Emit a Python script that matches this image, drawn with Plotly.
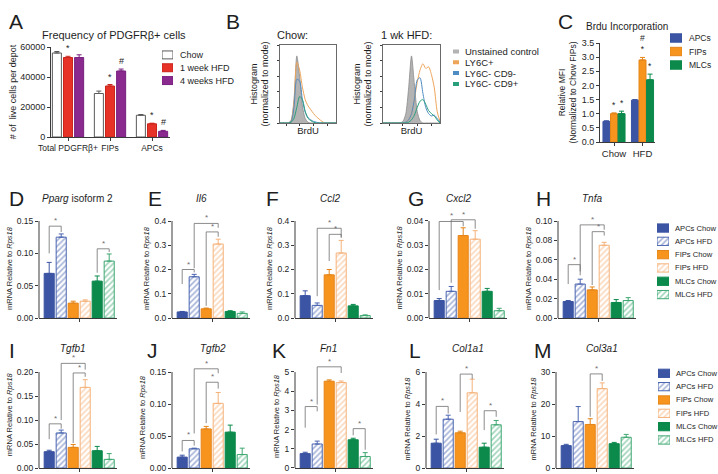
import plotly.graph_objects as go

W, H = 718, 474
FONT = "Arial, Liberation Sans, Helvetica, sans-serif"

# ======================= DATA =======================
# ---- Panel A: frequency of PDGFRb+ cells ----
A_CATS = ["Total PDGFRβ+", "FIPs", "APCs"]
A_SERIES = ["Chow", "1 week HFD", "4 weeks HFD"]
A_CHOW = [56000, 29000, 14500]
A_CHOW_ERR = [1000, 1600, 500]
A_WEEK1 = [53000, 34000, 8800]
A_WEEK1_ERR = [800, 1000, 400]
A_WEEK4 = [53000, 44000, 3800]
A_WEEK4_ERR = [1800, 1300, 600]
A_YTICKS = [0, 20000, 40000, 60000]
A_MARKS = [(0, 1, "*"), (1, 1, "*"), (1, 2, "#"), (2, 1, "*"), (2, 2, "#")]

# ---- Panel B: BrdU flow histograms (% of mode) ----
B_SERIES = ["Unstained control", "LY6C+", "LY6C- CD9-", "LY6C- CD9+"]
B_X = [0.00, 0.05, 0.10, 0.15, 0.20, 0.25, 0.30, 0.35, 0.40, 0.45, 0.50,
       0.55, 0.60, 0.65, 0.70, 0.75, 0.80, 0.85, 0.90, 0.95, 1.00]
B_CHOW_UNSTAINED = [0, 0, 0, 0, 4, 30, 86, 60, 22, 6, 1, 0, 0, 0, 0, 0, 0, 0, 0, 0, 0]
B_CHOW_LY6C_POS = [0, 0, 0, 0, 3, 26, 78, 68, 46, 30, 22, 17, 12, 8, 5, 2, 0, 0, 0, 0, 0]
B_CHOW_CD9_NEG = [0, 0, 0, 0, 2, 20, 56, 54, 30, 14, 7, 4, 2, 1, 0, 0, 0, 0, 0, 0, 0]
B_CHOW_CD9_POS = [0, 0, 0, 0, 1, 6, 20, 34, 30, 15, 6, 3, 1, 0, 0, 0, 0, 0, 0, 0, 0]
B_HFD_UNSTAINED = [0, 0, 0, 0, 0, 0, 0, 2, 12, 45, 86, 50, 15, 3, 0, 0, 0, 0, 0, 0, 0]
B_HFD_LY6C_POS = [0, 0, 0, 0, 0, 0, 0, 0, 1, 4, 12, 30, 52, 68, 76, 70, 72, 62, 45, 15, 2]
B_HFD_CD9_NEG = [0, 0, 0, 0, 0, 0, 0, 0, 1, 4, 12, 30, 55, 58, 38, 20, 12, 9, 10, 6, 1]
B_HFD_CD9_POS = [0, 0, 0, 0, 0, 0, 0, 0, 0, 1, 4, 10, 20, 28, 30, 24, 16, 12, 9, 4, 0]

# ---- Panel C: BrdU incorporation ----
C_CATS = ["Chow", "HFD"]
C_SERIES = ["APCs", "FIPs", "MLCs"]
C_APCS = [0.73, 1.48]
C_APCS_ERR = [0.02, 0.02]
C_FIPS = [1.00, 2.90]
C_FIPS_ERR = [0.03, 0.09]
C_MLCS = [1.00, 2.20]
C_MLCS_ERR = [0.09, 0.20]
C_YTICKS = [0.0, 0.5, 1.0, 1.5, 2.0, 2.5, 3.0, 3.5]
C_MARKS = [(0, 1, "*"), (0, 2, "*"), (1, 1, "#<br>*"), (1, 2, "*")]

# ---- Panels D-M: mRNA relative to Rps18 ----
GENE_GROUPS = ["APCs Chow", "APCs HFD", "FIPs Chow", "FIPs HFD", "MLCs Chow", "MLCs HFD"]
# significance brackets: (left bar, right bar, top, left-leg bottom, right-leg bottom)
PPARG = [0.069, 0.125, 0.023, 0.026, 0.057, 0.088]
PPARG_ERR = [0.017, 0.005, 0.003, 0.002, 0.008, 0.011]
PPARG_SIG = [(0, 1, 0.142, 0.100, 0.133), (4, 5, 0.107, 0.070, 0.102)]
IL6 = [0.025, 0.170, 0.038, 0.305, 0.027, 0.019]
IL6_ERR = [0.002, 0.010, 0.003, 0.020, 0.003, 0.006]
IL6_SIG = [(0, 1, 0.200, 0.140, 0.188), (1, 3, 0.390, 0.205, 0.372), (2, 3, 0.355, 0.050, 0.335)]
CCL2 = [0.092, 0.052, 0.178, 0.268, 0.050, 0.010]
CCL2_ERR = [0.020, 0.010, 0.022, 0.052, 0.006, 0.003]
CCL2_SIG = [(1, 3, 0.370, 0.090, 0.335), (2, 3, 0.345, 0.235, 0.330)]
CXCL2 = [0.0072, 0.0110, 0.0340, 0.0325, 0.0110, 0.0030]
CXCL2_ERR = [0.0008, 0.0020, 0.0032, 0.0035, 0.0012, 0.0010]
CXCL2_SIG = [(0, 2, 0.0398, 0.0115, 0.0378), (1, 3, 0.0405, 0.0145, 0.0368)]
TNFA = [0.017, 0.035, 0.029, 0.075, 0.016, 0.018]
TNFA_ERR = [0.001, 0.005, 0.003, 0.003, 0.003, 0.003]
TNFA_SIG = [(0, 1, 0.055, 0.035, 0.048), (1, 3, 0.096, 0.044, 0.091), (2, 3, 0.089, 0.034, 0.085)]
TGFB1 = [0.034, 0.073, 0.043, 0.168, 0.036, 0.018]
TGFB1_ERR = [0.003, 0.006, 0.006, 0.016, 0.009, 0.012]
TGFB1_SIG = [(0, 1, 0.092, 0.060, 0.082), (1, 3, 0.218, 0.100, 0.205), (2, 3, 0.198, 0.052, 0.190)]
TGFB2 = [0.017, 0.030, 0.061, 0.101, 0.056, 0.021]
TGFB2_ERR = [0.003, 0.001, 0.004, 0.017, 0.011, 0.010]
TGFB2_SIG = [(0, 1, 0.043, 0.026, 0.035), (1, 3, 0.155, 0.054, 0.148), (2, 3, 0.134, 0.070, 0.124)]
FN1 = [0.75, 1.25, 4.52, 4.45, 1.47, 0.60]
FN1_ERR = [0.07, 0.15, 0.07, 0.08, 0.08, 0.20]
FN1_SIG = [(0, 1, 3.20, 2.10, 2.95), (1, 3, 5.27, 3.30, 4.95), (4, 5, 2.05, 1.70, 0.95)]
COL1A1 = [1.55, 3.05, 2.20, 4.70, 1.30, 2.70]
COL1A1_ERR = [0.25, 0.25, 0.10, 0.85, 0.25, 0.27]
COL1A1_SIG = [(0, 1, 3.85, 2.10, 3.40), (2, 3, 5.87, 3.50, 5.55), (4, 5, 3.58, 2.37, 3.20)]
COL3A1 = [7.0, 14.5, 13.6, 24.8, 7.6, 9.6]
COL3A1_ERR = [0.4, 4.7, 1.8, 1.8, 0.4, 0.9]
COL3A1_SIG = [(2, 3, 29.4, 16.0, 27.2)]

# ======================= STYLE =======================
AXC = "#3a3a3a"
TXT = "#1e1e1e"
BRK = "#6e6e6e"
BLUE, BLUE_H = "#3b54a3", "#4a65b0"
ORANGE, ORANGE_D, ORANGE_H = "#f7941d", "#e48519", "#f5b27a"
GREEN, GREEN_H = "#0b8a4b", "#3fa872"
A_WHITE_LINE, A_RED, A_PURPLE = "#5a5a5a", "#e63227", "#8a2a8f"
B_GRAY, B_ORANGE, B_BLUE, B_GREEN = "#b3b3b3", "#eea55a", "#4f8cc4", "#2a9f7c"

GENE_STYLES = [
    dict(fill=BLUE, line=BLUE, pattern=None),
    dict(fill="white", line=BLUE_H, pattern=BLUE_H),
    dict(fill=ORANGE, line=ORANGE_D, pattern=None),
    dict(fill="white", line=ORANGE_H, pattern=ORANGE_H),
    dict(fill=GREEN, line=GREEN, pattern=None),
    dict(fill="white", line=GREEN_H, pattern=GREEN_H),
]


def fnt(size, color=TXT):
    return dict(family=FONT, size=size, color=color)


fig = go.Figure()
axes_layout = {}
annotations = []
shapes = []
_n = [0]


def add_axes(xpx, ypx, xopt, yopt):
    _n[0] += 1
    s = "" if _n[0] == 1 else str(_n[0])
    base = dict(showgrid=False, zeroline=False, automargin=False, fixedrange=True)
    xd = dict(base, domain=[xpx[0] / W, xpx[1] / W], anchor="y" + s)
    xd.update(xopt)
    yd = dict(base, domain=[1 - ypx[1] / H, 1 - ypx[0] / H], anchor="x" + s)
    yd.update(yopt)
    axes_layout["xaxis" + s] = xd
    axes_layout["yaxis" + s] = yd
    return "x" + s, "y" + s


def px_text(txt, x, y, size, xanchor="center", yanchor="middle", color=TXT):
    annotations.append(dict(text=txt, x=x / W, y=1 - y / H, xref="paper", yref="paper",
                            xanchor=xanchor, yanchor=yanchor, showarrow=False,
                            font=fnt(size, color)))


def make_marker(fill, line, pattern):
    m = dict(color=fill, line=dict(color=line, width=1))
    if pattern:
        m["pattern"] = dict(shape="/", fgcolor=pattern, bgcolor="white", size=4, solidity=0.4)
    return m


def add_bar(xa, ya, xs, ys, errs, width, fill, line, pattern=None):
    err = dict(type="data", array=errs, arrayminus=[0] * len(errs), symmetric=False,
               color=line, thickness=1, width=2.5)
    fig.add_trace(go.Bar(x=xs, y=ys, width=width, marker=make_marker(fill, line, pattern),
                         error_y=err, xaxis=xa, yaxis=ya, showlegend=False, hoverinfo="skip"))


def swatch_legend(x0, x1, rows, names, styles, size, kind="bar", gap=5):
    step = rows[1] - rows[0]
    xa, ya = add_axes((x0, x1), (rows[0] - step / 2, rows[-1] + step / 2),
                      dict(range=[0, 1], visible=False),
                      dict(range=[len(rows) - 0.5, -0.5], visible=False))
    for i, (name, st) in enumerate(zip(names, styles)):
        if kind == "bar":
            fig.add_trace(go.Bar(x=[1], y=[i], base=[0], orientation="h", width=0.62,
                                 marker=make_marker(st["fill"], st["line"], st.get("pattern")),
                                 xaxis=xa, yaxis=ya, showlegend=False, hoverinfo="skip"))
        else:
            fig.add_trace(go.Scatter(x=[0, 1], y=[i, i], mode="lines",
                                     line=dict(color=st["line"], width=4),
                                     xaxis=xa, yaxis=ya, showlegend=False, hoverinfo="skip"))
        annotations.append(dict(text=name, x=1, y=i, xref=xa, yref=ya, xanchor="left",
                                yanchor="middle", xshift=gap, showarrow=False, font=fnt(size)))


def y_axis_opts(ticks, fmt, rng, title, tsize, size=9, standoff=3, showline=True):
    return dict(range=rng, showline=showline, linecolor=AXC, linewidth=1, ticks="outside",
                ticklen=3, tickwidth=1, tickcolor=AXC, tickvals=ticks, tickformat=fmt,
                tickfont=fnt(size), title=dict(text=title, font=fnt(tsize), standoff=standoff))


# ======================= PANEL A =======================
a_unit, a_c0 = 42.0, 68.0
xa, ya = add_axes((51, 170), (47, 137),
                  dict(range=[(51 - a_c0) / a_unit, (170 - a_c0) / a_unit], showline=True,
                       linecolor=AXC, linewidth=1, ticks="outside", ticklen=3, tickcolor=AXC,
                       tickvals=[0, 1, 2], ticktext=A_CATS, tickfont=fnt(8.5), tickangle=0),
                  y_axis_opts(A_YTICKS, "d", [0, 60000], "# of  live cells per depot", 9, 9, 2))
A_OFF = [-0.265, 0.0, 0.265]
a_sets = [(A_CHOW, A_CHOW_ERR, "white", A_WHITE_LINE),
          (A_WEEK1, A_WEEK1_ERR, A_RED, "#c9261d"),
          (A_WEEK4, A_WEEK4_ERR, A_PURPLE, "#7a2080")]
for k, (vals, errs, fill, line) in enumerate(a_sets):
    add_bar(xa, ya, [c + A_OFF[k] for c in range(3)], vals, errs, 0.215, fill, line)
for (ci, si, sym) in A_MARKS:
    vals, errs = a_sets[si][0], a_sets[si][1]
    annotations.append(dict(text=sym, x=ci + A_OFF[si], y=vals[ci] + errs[ci], xref=xa, yref=ya,
                            yanchor="bottom", yshift=1, showarrow=False, font=fnt(9)))
px_text("Frequency of PDGFRβ+ cells", 114, 35, 11)
swatch_legend(162, 173, [55, 68, 80.5], A_SERIES,
              [dict(fill="white", line=A_WHITE_LINE), dict(fill=A_RED, line="#c9261d"),
               dict(fill=A_PURPLE, line="#7a2080")], 9)
px_text("A", 16, 21, 21)

# ======================= PANEL B =======================
b_panels = [((280, 336), "Chow:", 292,
             [B_CHOW_UNSTAINED, B_CHOW_LY6C_POS, B_CHOW_CD9_NEG, B_CHOW_CD9_POS]),
            ((383, 440), "1 wk HFD:", 406,
             [B_HFD_UNSTAINED, B_HFD_LY6C_POS, B_HFD_CD9_NEG, B_HFD_CD9_POS])]
b_colors = [B_GRAY, B_ORANGE, B_BLUE, B_GREEN]
for (xr, ttl, tx, curves) in b_panels:
    xa, ya = add_axes(xr, (45, 123),
                      dict(range=[0, 1], showline=True, mirror=True, linecolor="#6a6a6a",
                           linewidth=1, ticks="outside", ticklen=2, tickcolor=AXC,
                           tickvals=[0.12, 0.35, 0.6, 0.85], showticklabels=False,
                           title=dict(text="BrdU", font=fnt(9.5), standoff=2)),
                      dict(range=[0, 100], showline=True, mirror=True, linecolor="#6a6a6a",
                           linewidth=1, ticks="outside", ticklen=2, tickcolor=AXC,
                           tickvals=[0, 20, 40, 60, 80, 100], showticklabels=False,
                           title=dict(text="Histogram<br>(normalized to mode)",
                                      font=fnt(9), standoff=6)))
    for k, ys in enumerate(curves):
        if k == 0:
            fig.add_trace(go.Scatter(x=B_X, y=ys, mode="lines", fill="tozeroy",
                                     fillcolor=B_GRAY, line=dict(color="#8a8a8a", width=0.8,
                                                                 shape="spline", smoothing=0.7),
                                     xaxis=xa, yaxis=ya, showlegend=False, hoverinfo="skip"))
        else:
            fig.add_trace(go.Scatter(x=B_X, y=ys, mode="lines",
                                     line=dict(color=b_colors[k], width=1, shape="spline",
                                               smoothing=0.7),
                                     xaxis=xa, yaxis=ya, showlegend=False, hoverinfo="skip"))
    px_text(ttl, tx, 35, 11)
swatch_legend(453, 459, [51.5, 62.3, 73.1, 83.9], B_SERIES,
              [dict(line=c) for c in b_colors], 9.5, kind="line", gap=4)
px_text("B", 233, 21, 21)

# ======================= PANEL C =======================
c_unit, c_c0 = 28.5, 614.0
xa, ya = add_axes((600, 655), (43, 142),
                  dict(range=[(600 - c_c0) / c_unit, (655 - c_c0) / c_unit], showline=True,
                       linecolor=AXC, linewidth=1, ticks="outside", ticklen=3, tickcolor=AXC,
                       tickvals=[0, 1], ticktext=C_CATS, tickfont=fnt(9.5), tickangle=0),
                  y_axis_opts(C_YTICKS, ".1f", [0, 3.5],
                              "Relative MFI<br>(Normalized to Chow FIPs)", 8.5, 9, 3))
C_OFF = [-0.265, 0.0, 0.265]
c_sets = [(C_APCS, C_APCS_ERR, BLUE, BLUE), (C_FIPS, C_FIPS_ERR, ORANGE, ORANGE_D),
          (C_MLCS, C_MLCS_ERR, GREEN, GREEN)]
for k, (vals, errs, fill, line) in enumerate(c_sets):
    add_bar(xa, ya, [c + C_OFF[k] for c in range(2)], vals, errs, 0.245, fill, line)
for (ci, si, sym) in C_MARKS:
    vals, errs = c_sets[si][0], c_sets[si][1]
    annotations.append(dict(text=sym, x=ci + C_OFF[si], y=vals[ci] + errs[ci], xref=xa, yref=ya,
                            yanchor="bottom", yshift=1, showarrow=False, font=fnt(8.5)))
px_text("Brdu Incorporation", 627, 27, 10)
swatch_legend(670, 682, [38, 51.5, 65], C_SERIES,
              [dict(fill=BLUE, line=BLUE), dict(fill=ORANGE, line=ORANGE_D),
               dict(fill=GREEN, line=GREEN)], 8.5)
px_text("C", 565, 21, 21)

# ======================= PANELS D-M =======================
ROWS = {1: dict(top=221, base=318, letter=198, title=198),
        2: dict(top=372, base=468, letter=350, title=348)}
GENE_AXIS_W = 78
GENE_XRANGE = [-0.85, 5.65]
panels = [
    (1, "D", "<i>Pparg</i> isoform 2", PPARG, PPARG_ERR, PPARG_SIG, [0, 0.05, 0.10, 0.15], ".2f", 39, 16, 77),
    (1, "E", "<i>Il6</i>", IL6, IL6_ERR, IL6_SIG, [0, 0.1, 0.2, 0.3, 0.4], ".1f", 172, 155, 201),
    (1, "F", "<i>Ccl2</i>", CCL2, CCL2_ERR, CCL2_SIG, [0, 0.1, 0.2, 0.3, 0.4], ".1f", 295, 272, 330),
    (1, "G", "<i>Cxcl2</i>", CXCL2, CXCL2_ERR, CXCL2_SIG, [0, 0.01, 0.02, 0.03, 0.04], ".2f", 429, 416, 458),
    (1, "H", "<i>Tnfa</i>", TNFA, TNFA_ERR, TNFA_SIG, [0, 0.02, 0.04, 0.06, 0.08, 0.10], ".2f", 558, 543, 592),
    (2, "I", "<i>Tgfb1</i>", TGFB1, TGFB1_ERR, TGFB1_SIG, [0, 0.05, 0.10, 0.15, 0.20], ".2f", 39, 12, 73),
    (2, "J", "<i>Tgfb2</i>", TGFB2, TGFB2_ERR, TGFB2_SIG, [0, 0.05, 0.10, 0.15], ".2f", 172, 152, 213),
    (2, "K", "<i>Fn1</i>", FN1, FN1_ERR, FN1_SIG, [0, 1, 2, 3, 4, 5], "d", 295, 279, 328),
    (2, "L", "<i>Col1a1</i>", COL1A1, COL1A1_ERR, COL1A1_SIG, [0, 2, 4, 6], "d", 426, 415, 468),
    (2, "M", "<i>Col3a1</i>", COL3A1, COL3A1_ERR, COL3A1_SIG, [0, 10, 20, 30], "d", 556, 543, 602),
]
for (row, letter, title, vals, errs, sig, yt, fmt, left, lx, tx) in panels:
    R = ROWS[row]
    T = yt[-1]
    rmax = max([T] + [s[2] for s in sig]) + 0.02 * T
    dom_top = R["base"] - (rmax / T) * (R["base"] - R["top"])
    xa, ya = add_axes((left, left + GENE_AXIS_W), (dom_top, R["base"]),
                      dict(range=GENE_XRANGE, showline=True, linecolor=AXC, linewidth=1,
                           ticks="outside", ticklen=3, tickcolor=AXC, tickvals=[2.5],
                           ticktext=[""]),
                      y_axis_opts(yt, fmt, [0, rmax], "mRNA Relative to <i>Rps18</i>", 7.5,
                                  8.5, 3, showline=False))
    shapes.append(dict(type="line", xref=xa + " domain", yref=ya, x0=0, x1=0, y0=0, y1=T,
                       line=dict(color=AXC, width=1)))
    for i in range(6):
        st = GENE_STYLES[i]
        add_bar(xa, ya, [i], [vals[i]], [errs[i]], 0.84, st["fill"], st["line"], st["pattern"])
    for (i, j, top, lb, rb) in sig:
        shapes.append(dict(type="path", xref=xa, yref=ya,
                           path=f"M {i},{lb} L {i},{top} L {j},{top} L {j},{rb}",
                           line=dict(color=BRK, width=0.8)))
        annotations.append(dict(text="*", x=(i + j) / 2, y=top, xref=xa, yref=ya,
                                yanchor="bottom", yshift=-1, showarrow=False, font=fnt(8, BRK)))
    px_text(letter, lx, R["letter"], 21)
    px_text(title, tx, R["title"], 10)

swatch_legend(657, 669, [228, 241.3, 254.6, 268, 281.3, 294.6], GENE_GROUPS, GENE_STYLES, 7.6, gap=4)
swatch_legend(658, 670, [373.3, 386.6, 400, 413.3, 426.6, 440], GENE_GROUPS, GENE_STYLES, 7.6, gap=4)

fig.update_layout(width=W, height=H, margin=dict(l=0, r=0, t=0, b=0),
                  paper_bgcolor="white", plot_bgcolor="white", barmode="overlay",
                  showlegend=False, annotations=annotations, shapes=shapes,
                  font=fnt(9), **axes_layout)

fig.write_html("out.html", config={"displayModeBar": False, "staticPlot": True},
               post_script="document.body.style.margin='0';document.body.style.overflow='hidden';")
